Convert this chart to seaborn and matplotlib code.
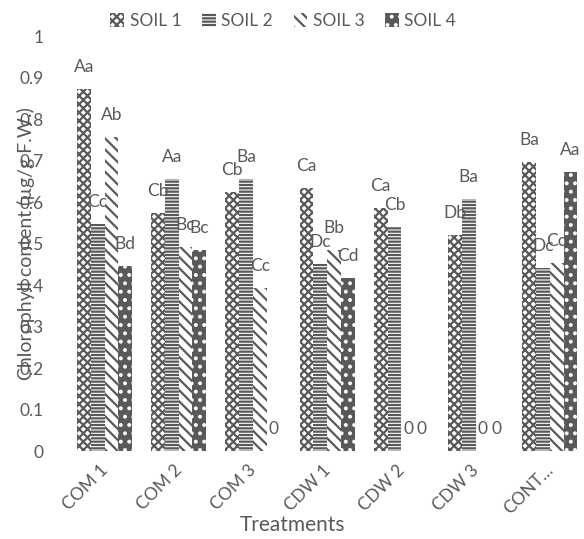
import numpy as np
import pandas as pd
import seaborn as sns
import matplotlib.pyplot as plt
import matplotlib.transforms as mtransforms

# data
treatments = ["COM 1", "COM 2", "COM 3", "CDW 1", "CDW 2", "CDW 3", "CONT…"]
soils = ["SOIL 1", "SOIL 2", "SOIL 3", "SOIL 4"]
soil1 = [0.872, 0.573, 0.624, 0.634, 0.586, 0.520, 0.696]
soil2 = [0.547, 0.655, 0.655, 0.451, 0.540, 0.607, 0.441]
soil3 = [0.756, 0.492, 0.393, 0.484, 0.0, 0.0, 0.453]
soil4 = [0.446, 0.484, 0.0, 0.417, 0.0, 0.0, 0.672]
letters1 = ["Aa", "Cb", "Cb", "Ca", "Ca", "Db", "Ba"]
letters2 = ["Cc", "Aa", "Ba", "Dc", "Cb", "Ba", "Dc"]
letters3 = ["Ab", "Bc", "Cc", "Bb", "0", "0", "Cc"]
letters4 = ["Bd", "Bc", "0", "Cd", "0", "0", "Aa"]

grey = "#595959"

sns.set_style("white")
plt.rcParams['font.family'] = ['Lato', 'DejaVu Sans']
plt.rcParams['hatch.linewidth'] = 1.6

df = pd.DataFrame({
    "Treatments": treatments * 4,
    "value": soil1 + soil2 + soil3 + soil4,
    "soil": [s for s in soils for _ in treatments],
})

fig = plt.figure(figsize=(5.84, 5.39), dpi=100)
ax = fig.add_axes([0.1154, 0.163, 0.8896, 0.77])

sns.barplot(data=df, x="Treatments", y="value", hue="soil", order=treatments,
            hue_order=soils, width=0.74, ax=ax, legend=False, errorbar=None)

hatches = ["xxxx", "-----", "\\\\\\", ".."]
faces = ["white", "white", "white", grey]
edges = [grey, grey, grey, "white"]
all_letters = [letters1, letters2, letters3, letters4]
for cont, h, fc, ec, labs in zip(ax.containers, hatches, faces, edges, all_letters):
    for p in cont:
        p.set_facecolor(fc)
        p.set_edgecolor(ec)
        p.set_hatch(h)
        p.set_linewidth(0)
    ax.bar_label(cont, labels=labs, padding=10, color=grey, fontsize=12.5)

# legend
handles = []
for h, fc, ec, s in zip(hatches, faces, edges, soils):
    handles.append(plt.Rectangle((0, 0), 1, 1, facecolor=fc, edgecolor=ec,
                                 hatch=h, linewidth=0, label=s))
fig.legend(handles=handles, loc="upper center", bbox_to_anchor=(0.485, 1.005),
           ncol=4, frameon=False, fontsize=12.5, labelcolor=grey,
           handlelength=0.8, handleheight=0.8, handletextpad=0.3, columnspacing=1.2)

ax.set_ylim(0, 1)
ax.set_yticks(np.arange(0, 1.01, 0.1))
ax.set_yticklabels(["0", "0.1", "0.2", "0.3", "0.4", "0.5", "0.6", "0.7", "0.8", "0.9", "1"])
ax.tick_params(axis="y", length=0, pad=17, labelsize=12.5, labelcolor=grey)
ax.tick_params(axis="x", length=0, pad=12, labelsize=12.5, labelcolor=grey)
for lab in ax.get_xticklabels():
    lab.set_rotation(45)
    lab.set_ha("right")
    lab.set_va("center")
    lab.set_rotation_mode("anchor")
    lab.set_transform(lab.get_transform() + mtransforms.ScaledTranslation(1 / 100, 0, fig.dpi_scale_trans))

ax.set_xlabel("Treatments", fontsize=15, color=grey)
ax.xaxis.label.set_va("center")
ax.xaxis.set_label_coords(0.434, -0.178)
ax.set_ylabel("Chlorophyll content (µg/g F.W.)", fontsize=14, color=grey)
ax.yaxis.label.set_va("center")
ax.yaxis.set_label_coords(-0.08, 0.5)

sns.despine(ax=ax, left=True, bottom=True)

fig.savefig("out.png", dpi=100)
